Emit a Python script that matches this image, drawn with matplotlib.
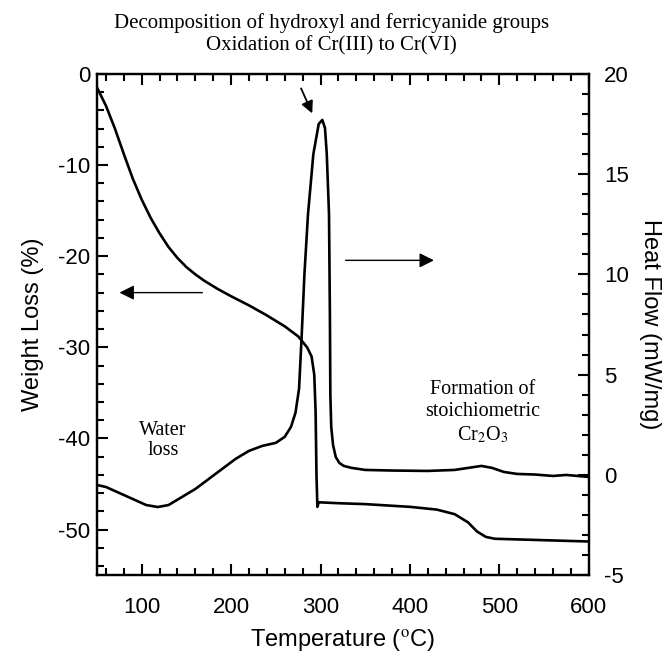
import matplotlib
matplotlib.use("Agg")
import matplotlib.pyplot as plt
from matplotlib.ticker import MultipleLocator

plt.rcParams["font.family"] = ["Liberation Sans", "DejaVu Sans"]
plt.rcParams["axes.unicode_minus"] = False
plt.rcParams["mathtext.fontset"] = "stix"

# --- data read off the TGA / DSC trace ---
# weight loss (left axis)
tga_temp = [50, 60, 70, 80, 90, 100, 110, 120, 130, 140, 150, 160, 170, 185,
            200, 220, 240, 260, 275, 285, 290, 293, 294.5, 295.5, 296.5, 298,
            320, 350, 400, 430, 450, 465, 475, 485, 495, 530, 600]
tga_weight = [-1.5, -3.5, -6.0, -8.8, -11.5, -13.8, -15.8, -17.5, -19.0, -20.2,
              -21.2, -22.0, -22.7, -23.6, -24.4, -25.4, -26.5, -27.7, -28.8,
              -30.0, -31.0, -33.0, -37.0, -44.0, -47.5, -47.0, -47.1, -47.2,
              -47.5, -47.8, -48.3, -49.2, -50.2, -50.8, -51.0, -51.1, -51.3]

# heat flow (right axis)
dsc_temp = [50, 60, 75, 90, 105, 118, 130, 145, 160, 175, 190, 205, 220, 235,
            250, 260, 267, 272, 276, 279, 282, 286, 292, 298, 302, 305, 307,
            309.5, 310.5, 311, 312, 314, 317, 321, 326, 335, 350, 380, 420,
            450, 465, 480, 492, 505, 520, 540, 560, 575, 600]
dsc_heat = [-0.5, -0.6, -0.9, -1.2, -1.5, -1.6, -1.5, -1.1, -0.7, -0.2, 0.3,
            0.8, 1.2, 1.45, 1.6, 1.9, 2.4, 3.1, 4.3, 7.0, 10.0, 13.0, 16.0,
            17.5, 17.7, 17.3, 16.0, 13.0, 8.0, 4.0, 2.4, 1.5, 0.9, 0.6, 0.45,
            0.35, 0.25, 0.22, 0.2, 0.25, 0.35, 0.45, 0.35, 0.15, 0.05, 0.02,
            -0.05, 0.0, -0.1]

x_ticks = [100, 200, 300, 400, 500, 600]

fig = plt.figure(figsize=(6.69, 6.65), dpi=100)
ax = fig.add_axes([0.145, 0.135, 0.735, 0.754])
ax2 = ax.twinx()

ax.plot(tga_temp, tga_weight, color="black", lw=1.9)
ax2.plot(dsc_temp, dsc_heat, color="black", lw=1.9)

ax.set_xlim(50, 600)
ax.set_ylim(-55, 0)
ax2.set_ylim(-5, 20)

ax.set_xticks(x_ticks)
ax.xaxis.set_minor_locator(MultipleLocator(20))
ax.yaxis.set_major_locator(MultipleLocator(10))
ax.yaxis.set_minor_locator(MultipleLocator(2))
ax2.yaxis.set_major_locator(MultipleLocator(5))
ax2.yaxis.set_minor_locator(MultipleLocator(1))

for a in (ax, ax2):
    for s in a.spines.values():
        s.set_linewidth(1.6)

ax.tick_params(which="both", direction="in", top=True, right=False, width=1.5,
               labelsize=16)
ax.tick_params(which="major", length=8)
ax.tick_params(which="minor", length=5)
ax.tick_params(axis="y", pad=5)
ax.tick_params(axis="x", pad=16)
ax2.tick_params(which="both", direction="in", width=1.5, labelsize=16, pad=11)
ax2.tick_params(which="major", length=8)
ax2.tick_params(which="minor", length=5)

ax.set_xlabel("Temperature ($^{\\rm o}$C)", fontsize=17, labelpad=6)
ax.set_ylabel("Weight Loss (%)", fontsize=17, labelpad=10)
ax2.set_ylabel("Heat Flow (mW/mg)", fontsize=17, rotation=270, labelpad=23)

serif = "Liberation Serif"

# header lines above the frame
fig.text(0.495, 0.966, "Decomposition of hydroxyl and ferricyanide groups",
         ha="center", va="center", fontsize=15, family=serif)
fig.text(0.495, 0.931, "Oxidation of Cr(III) to Cr(VI)",
         ha="center", va="center", fontsize=15, family=serif)

ax.text(124, -40.2, "Water\nloss", ha="center", va="center", fontsize=14.5,
        family=serif, linespacing=1.1)
ax2.text(481, 3.1, "Formation of\nstoichiometric\nCr$_2$O$_3$", ha="center",
         va="center", fontsize=14.5, family=serif, linespacing=1.2)

# arrows
ax2.annotate("", xy=(292, 17.9), xytext=(277, 19.4),
             arrowprops=dict(arrowstyle="-|>", color="black", lw=1.3,
                             mutation_scale=18))
ax2.annotate("", xy=(430, 10.7), xytext=(325, 10.7),
             arrowprops=dict(arrowstyle="-|>", color="black", lw=1.0,
                             mutation_scale=22))
ax.annotate("", xy=(72, -24.0), xytext=(171, -24.0),
            arrowprops=dict(arrowstyle="-|>", color="black", lw=1.0,
                            mutation_scale=22))

plt.savefig("out.png", dpi=100)
